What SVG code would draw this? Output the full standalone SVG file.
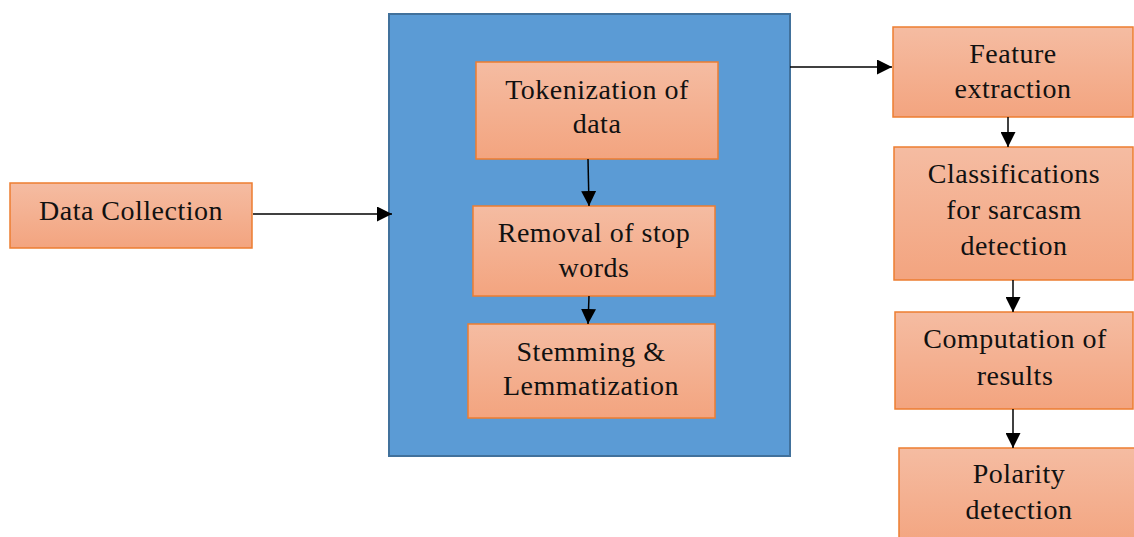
<svg xmlns="http://www.w3.org/2000/svg" width="1134" height="537" viewBox="0 0 1134 537">
  <defs>
    <linearGradient id="boxFill" x1="0" y1="0" x2="0" y2="1">
      <stop offset="0" stop-color="#F5BCA2"/>
      <stop offset="1" stop-color="#F3A47F"/>
    </linearGradient>
    <marker id="arrow" markerWidth="15" markerHeight="15" viewBox="0 0 15 15" refX="15" refY="7.5" orient="auto" markerUnits="userSpaceOnUse">
      <path d="M0,0 L15,7.5 L0,15 Z" fill="#000"/>
    </marker>
  </defs>
  <style>
    .box { fill: url(#boxFill); stroke: #ED7D31; stroke-width: 1.5; }
    .panel { fill: #5B9BD5; stroke: #41719C; stroke-width: 2; }
    .label { font-family: "Liberation Serif", "Times New Roman", serif; font-size: 28px; letter-spacing: 0.5px; fill: #111; text-anchor: middle; }
    .conn { stroke: #000; stroke-width: 1.5; fill: none; marker-end: url(#arrow); }
  </style>
  <rect width="1134" height="537" fill="#fff"/>

  <!-- preprocessing panel -->
  <g id="preprocessing">
    <rect class="panel" x="389" y="14" width="401" height="442"/>
  </g>

  <g id="data-collection">
    <rect class="box" x="10" y="183" width="242" height="65"/>
    <text class="label" x="131" y="220">Data Collection</text>
  </g>

  <g id="tokenization">
    <rect class="box" x="476" y="62" width="242" height="97"/>
    <text class="label" x="597" y="99">Tokenization of</text>
    <text class="label" x="597" y="133">data</text>
  </g>

  <g id="stop-words">
    <rect class="box" x="473" y="206" width="242" height="90"/>
    <text class="label" x="594" y="242">Removal of stop</text>
    <text class="label" x="594" y="277">words</text>
  </g>

  <g id="stemming">
    <rect class="box" x="468" y="324" width="247" height="94"/>
    <text class="label" x="591" y="361">Stemming &amp;</text>
    <text class="label" x="591" y="395">Lemmatization</text>
  </g>

  <g id="feature-extraction">
    <rect class="box" x="893" y="27" width="240" height="90"/>
    <text class="label" x="1013" y="63">Feature</text>
    <text class="label" x="1013" y="98">extraction</text>
  </g>

  <g id="classification">
    <rect class="box" x="894" y="147" width="239" height="133"/>
    <text class="label" x="1014" y="183">Classifications</text>
    <text class="label" x="1014" y="219">for sarcasm</text>
    <text class="label" x="1014" y="255">detection</text>
  </g>

  <g id="computation">
    <rect class="box" x="895" y="312" width="238" height="97"/>
    <text class="label" x="1015" y="348">Computation of</text>
    <text class="label" x="1015" y="385">results</text>
  </g>

  <g id="polarity">
    <rect class="box" x="899" y="448" width="240" height="100"/>
    <text class="label" x="1019" y="483">Polarity</text>
    <text class="label" x="1019" y="519">detection</text>
  </g>

  <g id="connectors">
    <line class="conn" x1="253" y1="214" x2="392" y2="214"/>
    <line class="conn" x1="588" y1="159" x2="589" y2="206"/>
    <line class="conn" x1="589" y1="296" x2="588" y2="324"/>
    <line class="conn" x1="790" y1="67" x2="892" y2="67"/>
    <line class="conn" x1="1008" y1="117" x2="1008" y2="147"/>
    <line class="conn" x1="1013" y1="280" x2="1013" y2="312"/>
    <line class="conn" x1="1013" y1="409" x2="1013" y2="448"/>
  </g>
</svg>
